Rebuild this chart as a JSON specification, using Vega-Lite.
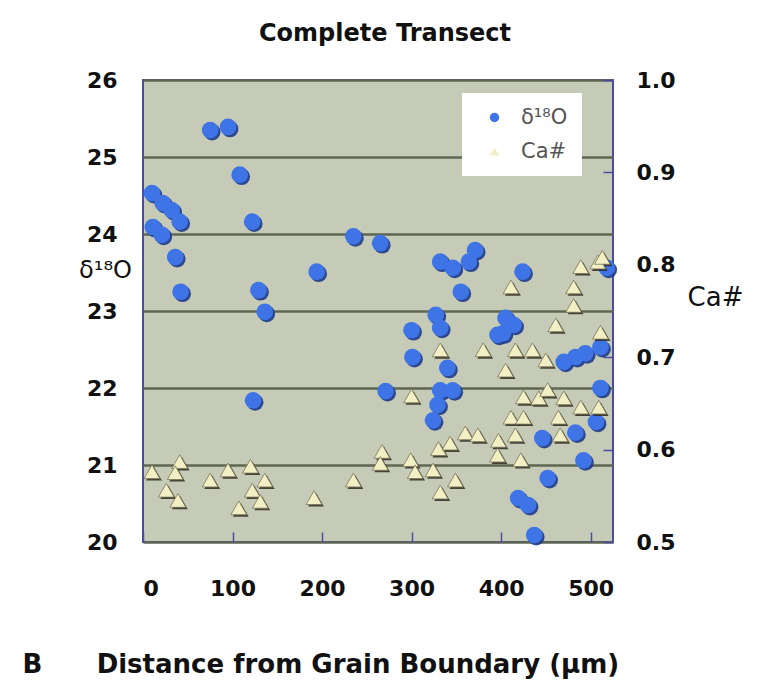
{
  "$schema": "https://vega.github.io/schema/vega-lite/v6.json",
  "autosize": {"type": "none"},
  "width": 470,
  "height": 462,
  "padding": {"left": 143, "top": 80, "right": 148, "bottom": 155},
  "background": "white",
  "title": {"text": "Complete Transect", "font": "DejaVu Sans", "fontSize": 24, "fontWeight": "bold", "color": "#111", "offset": 23, "dx": 7},
  "datasets": {
    "o": [
      {"dist": 10, "val": 24.53, "series": "δ¹⁸O"}, {"dist": 22, "val": 24.40, "series": "δ¹⁸O"}, {"dist": 32, "val": 24.31, "series": "δ¹⁸O"}, {"dist": 41, "val": 24.16, "series": "δ¹⁸O"},
      {"dist": 11, "val": 24.09, "series": "δ¹⁸O"}, {"dist": 21, "val": 23.99, "series": "δ¹⁸O"}, {"dist": 36, "val": 23.70, "series": "δ¹⁸O"}, {"dist": 42, "val": 23.25, "series": "δ¹⁸O"},
      {"dist": 75, "val": 25.35, "series": "δ¹⁸O"}, {"dist": 95, "val": 25.39, "series": "δ¹⁸O"}, {"dist": 108, "val": 24.77, "series": "δ¹⁸O"}, {"dist": 122, "val": 24.16, "series": "δ¹⁸O"},
      {"dist": 129, "val": 23.27, "series": "δ¹⁸O"}, {"dist": 136, "val": 22.99, "series": "δ¹⁸O"}, {"dist": 123, "val": 21.84, "series": "δ¹⁸O"}, {"dist": 194, "val": 23.51, "series": "δ¹⁸O"},
      {"dist": 235, "val": 23.97, "series": "δ¹⁸O"}, {"dist": 265, "val": 23.88, "series": "δ¹⁸O"}, {"dist": 271, "val": 21.96, "series": "δ¹⁸O"},
      {"dist": 332, "val": 23.64, "series": "δ¹⁸O"}, {"dist": 346, "val": 23.56, "series": "δ¹⁸O"}, {"dist": 364, "val": 23.64, "series": "δ¹⁸O"}, {"dist": 371, "val": 23.79, "series": "δ¹⁸O"},
      {"dist": 355, "val": 23.25, "series": "δ¹⁸O"}, {"dist": 300, "val": 22.75, "series": "δ¹⁸O"}, {"dist": 301, "val": 22.40, "series": "δ¹⁸O"}, {"dist": 327, "val": 22.95, "series": "δ¹⁸O"},
      {"dist": 332, "val": 22.78, "series": "δ¹⁸O"}, {"dist": 340, "val": 22.26, "series": "δ¹⁸O"}, {"dist": 332, "val": 21.97, "series": "δ¹⁸O"}, {"dist": 346, "val": 21.97, "series": "δ¹⁸O"},
      {"dist": 329, "val": 21.78, "series": "δ¹⁸O"}, {"dist": 324, "val": 21.58, "series": "δ¹⁸O"}, {"dist": 405, "val": 22.91, "series": "δ¹⁸O"}, {"dist": 414, "val": 22.82, "series": "δ¹⁸O"},
      {"dist": 402, "val": 22.71, "series": "δ¹⁸O"}, {"dist": 396, "val": 22.69, "series": "δ¹⁸O"}, {"dist": 424, "val": 23.51, "series": "δ¹⁸O"}, {"dist": 470, "val": 22.34, "series": "δ¹⁸O"},
      {"dist": 483, "val": 22.40, "series": "δ¹⁸O"}, {"dist": 494, "val": 22.45, "series": "δ¹⁸O"}, {"dist": 511, "val": 22.53, "series": "δ¹⁸O"}, {"dist": 511, "val": 22.00, "series": "δ¹⁸O"},
      {"dist": 446, "val": 21.35, "series": "δ¹⁸O"}, {"dist": 483, "val": 21.42, "series": "δ¹⁸O"}, {"dist": 506, "val": 21.56, "series": "δ¹⁸O"}, {"dist": 492, "val": 21.06, "series": "δ¹⁸O"},
      {"dist": 452, "val": 20.83, "series": "δ¹⁸O"}, {"dist": 419, "val": 20.57, "series": "δ¹⁸O"}, {"dist": 430, "val": 20.48, "series": "δ¹⁸O"}, {"dist": 437, "val": 20.09, "series": "δ¹⁸O"},
      {"dist": 518, "val": 23.56, "series": "δ¹⁸O"}
    ],
    "ca": [
      {"dist": 10, "val": 0.576, "series": "Ca#"}, {"dist": 41, "val": 0.587, "series": "Ca#"}, {"dist": 36, "val": 0.575, "series": "Ca#"}, {"dist": 26, "val": 0.556, "series": "Ca#"},
      {"dist": 39, "val": 0.545, "series": "Ca#"}, {"dist": 75, "val": 0.567, "series": "Ca#"}, {"dist": 95, "val": 0.578, "series": "Ca#"}, {"dist": 120, "val": 0.582, "series": "Ca#"},
      {"dist": 136, "val": 0.567, "series": "Ca#"}, {"dist": 122, "val": 0.556, "series": "Ca#"}, {"dist": 131, "val": 0.544, "series": "Ca#"}, {"dist": 107, "val": 0.537, "series": "Ca#"},
      {"dist": 191, "val": 0.548, "series": "Ca#"}, {"dist": 235, "val": 0.567, "series": "Ca#"}, {"dist": 267, "val": 0.598, "series": "Ca#"}, {"dist": 265, "val": 0.585, "series": "Ca#"},
      {"dist": 300, "val": 0.658, "series": "Ca#"}, {"dist": 299, "val": 0.589, "series": "Ca#"}, {"dist": 304, "val": 0.576, "series": "Ca#"}, {"dist": 324, "val": 0.578, "series": "Ca#"},
      {"dist": 330, "val": 0.601, "series": "Ca#"}, {"dist": 343, "val": 0.607, "series": "Ca#"}, {"dist": 332, "val": 0.708, "series": "Ca#"}, {"dist": 360, "val": 0.618, "series": "Ca#"},
      {"dist": 374, "val": 0.616, "series": "Ca#"}, {"dist": 332, "val": 0.554, "series": "Ca#"}, {"dist": 349, "val": 0.567, "series": "Ca#"}, {"dist": 380, "val": 0.708, "series": "Ca#"},
      {"dist": 397, "val": 0.610, "series": "Ca#"}, {"dist": 396, "val": 0.594, "series": "Ca#"}, {"dist": 405, "val": 0.686, "series": "Ca#"}, {"dist": 411, "val": 0.776, "series": "Ca#"},
      {"dist": 416, "val": 0.708, "series": "Ca#"}, {"dist": 435, "val": 0.708, "series": "Ca#"}, {"dist": 450, "val": 0.697, "series": "Ca#"}, {"dist": 461, "val": 0.735, "series": "Ca#"},
      {"dist": 481, "val": 0.756, "series": "Ca#"}, {"dist": 481, "val": 0.776, "series": "Ca#"}, {"dist": 489, "val": 0.798, "series": "Ca#"}, {"dist": 508, "val": 0.803, "series": "Ca#"},
      {"dist": 513, "val": 0.808, "series": "Ca#"}, {"dist": 511, "val": 0.727, "series": "Ca#"}, {"dist": 425, "val": 0.657, "series": "Ca#"}, {"dist": 442, "val": 0.656, "series": "Ca#"},
      {"dist": 452, "val": 0.665, "series": "Ca#"}, {"dist": 470, "val": 0.656, "series": "Ca#"}, {"dist": 489, "val": 0.646, "series": "Ca#"}, {"dist": 509, "val": 0.646, "series": "Ca#"},
      {"dist": 411, "val": 0.635, "series": "Ca#"}, {"dist": 425, "val": 0.635, "series": "Ca#"}, {"dist": 464, "val": 0.635, "series": "Ca#"}, {"dist": 416, "val": 0.616, "series": "Ca#"},
      {"dist": 466, "val": 0.616, "series": "Ca#"}, {"dist": 422, "val": 0.589, "series": "Ca#"}
    ]
  },
  "encoding": {
    "x": {
      "field": "dist", "type": "quantitative",
      "scale": {"domain": [0, 525], "nice": false, "zero": false},
      "axis": {
        "values": [0, 100, 200, 300, 400, 500], "grid": false, "tickSize": -10, "tickColor": "#4b4ba6", "tickWidth": 1.5,
        "labelPadding": 56, "labelBaseline": "middle",
        "title": "B\u00a0\u00a0\u00a0\u00a0\u00a0\u00a0Distance from Grain Boundary (µm)", "titleFontSize": 26, "titleFontWeight": "bold",
        "titleAnchor": "start", "titleAlign": "left", "titleX": -121, "titleY": 130, "titleBaseline": "alphabetic"
      }
    }
  },
  "layer": [
    {
      "data": {"name": "o"},
      "encoding": {
        "y": {
          "field": "val", "type": "quantitative",
          "scale": {"domain": [20, 26], "nice": false, "zero": false},
          "axis": {
            "orient": "left", "values": [20, 21, 22, 23, 24, 25, 26], "grid": true, "gridColor": "#5e6752", "gridWidth": 2.5,
            "ticks": false, "labelPadding": 26,
            "title": "δ¹⁸O", "titleFontSize": 24, "titleFontWeight": "normal", "titleAngle": 0,
            "titleX": -38, "titleY": 190, "titleAlign": "center", "titleBaseline": "middle"
          }
        }
      },
      "layer": [
        {"mark": {"type": "circle", "size": 280, "opacity": 0.9, "fill": "#1c3a8a", "xOffset": 2, "yOffset": 2}},
        {
          "mark": {"type": "point", "size": 280, "filled": true, "opacity": 1, "strokeWidth": 0},
          "encoding": {
            "fill": {"field": "series", "type": "nominal", "scale": {"domain": ["δ¹⁸O", "Ca#"], "range": ["#3f74e6", "#f3efc4"]}, "legend": {"title": null}},
            "shape": {"field": "series", "type": "nominal", "scale": {"domain": ["δ¹⁸O", "Ca#"], "range": ["circle", "triangle-up"]}, "legend": {"title": null}}
          }
        }
      ]
    },
    {
      "data": {"name": "ca"},
      "encoding": {
        "y": {
          "field": "val", "type": "quantitative",
          "scale": {"domain": [0.5, 1.0], "nice": false, "zero": false},
          "axis": {
            "orient": "right", "values": [0.5, 0.6, 0.7, 0.8, 0.9, 1.0], "format": ".1f", "grid": false,
            "tickSize": -10, "tickColor": "#4b4ba6", "tickWidth": 1.5, "labelPadding": 33,
            "title": "Ca#", "titleFontSize": 26, "titleFontWeight": "normal", "titleAngle": 0,
            "titleX": 102, "titleY": 217, "titleAlign": "center", "titleBaseline": "middle"
          }
        }
      },
      "layer": [
        {"mark": {"type": "point", "shape": "triangle-up", "size": 250, "filled": true, "fill": "#2e2c22", "opacity": 0.85, "strokeWidth": 0, "xOffset": 2, "yOffset": 2}},
        {
          "mark": {"type": "point", "size": 250, "filled": true, "opacity": 1, "stroke": "#7a7558", "strokeWidth": 0.8},
          "encoding": {
            "fill": {"field": "series", "type": "nominal", "scale": {"domain": ["δ¹⁸O", "Ca#"], "range": ["#3f74e6", "#f3efc4"]}, "legend": {"title": null}},
            "shape": {"field": "series", "type": "nominal", "scale": {"domain": ["δ¹⁸O", "Ca#"], "range": ["circle", "triangle-up"]}, "legend": {"title": null}}
          }
        }
      ]
    }
  ],
  "resolve": {"scale": {"y": "independent"}, "axis": {"y": "independent"}},
  "config": {
    "view": {"fill": "#c6cbb7", "stroke": "#4b4ba6", "strokeWidth": 2},
    "axis": {"labelFont": "DejaVu Sans", "labelFontWeight": "bold", "labelFontSize": 22, "labelColor": "#111", "titleFont": "DejaVu Sans", "titleColor": "#111", "domain": false},
    "legend": {
      "orient": "none", "legendX": 319, "legendY": 13, "fillColor": "white", "padding": 14,
      "labelFont": "DejaVu Sans", "labelFontSize": 21, "labelColor": "#555", "symbolSize": 90, "rowPadding": 12,
      "symbolStrokeColor": "#777", "symbolStrokeWidth": 0.8, "labelOffset": 16, "symbolOffset": 8
    }
  }
}
